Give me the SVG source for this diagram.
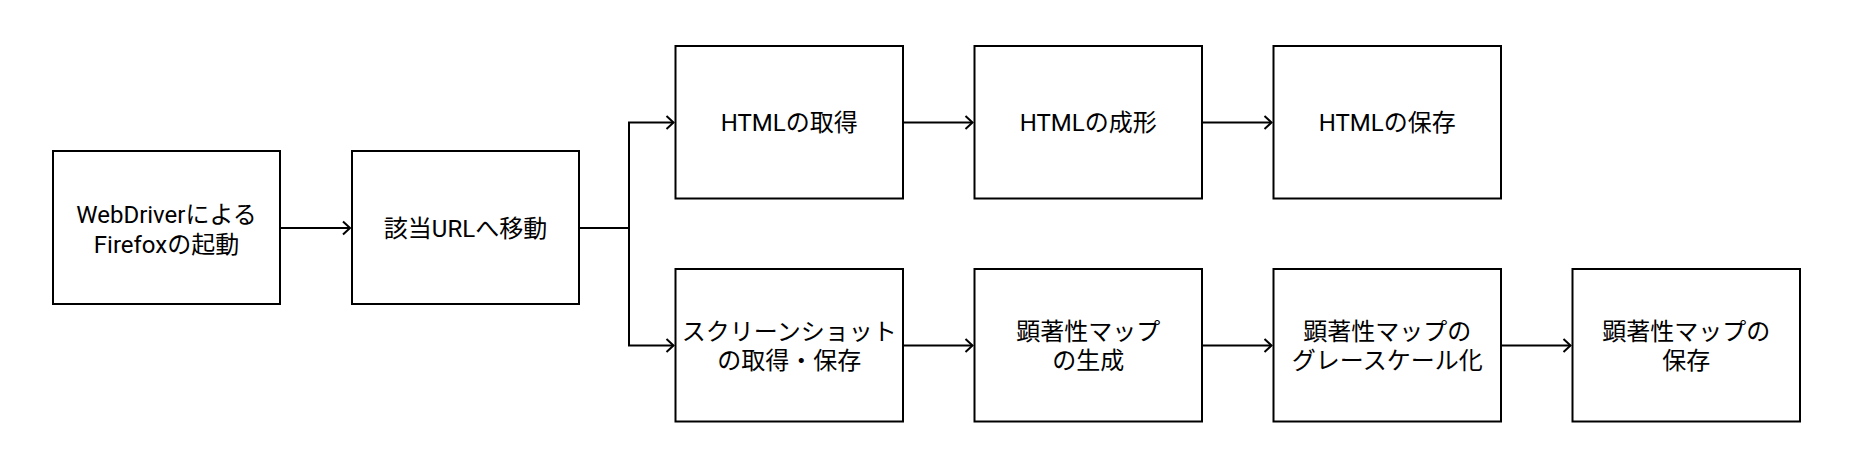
<svg xmlns="http://www.w3.org/2000/svg" width="1853" height="456" viewBox="0 0 1853 456">
<style>
.box{fill:#fff;stroke:#000;stroke-width:2}
.lbl{font-family:Roboto,"Noto Sans CJK JP",sans-serif;font-size:24px;fill:#000;text-anchor:middle}
.edge{fill:none;stroke:#000;stroke-width:2}
</style>
<defs>
<marker id="arr" markerUnits="userSpaceOnUse" markerWidth="20" markerHeight="20" refX="0" refY="0" viewBox="-10 -10 20 20" orient="auto" overflow="visible">
<path d="M-7,-6.5 L0,0 L-7,6.5" fill="none" stroke="#000" stroke-width="2"/>
</marker>
</defs>
<rect width="1853" height="456" fill="#fff"/>
<g id="n1"><rect class="box" x="53" y="151" width="227" height="153"/><text class="lbl" x="166.5" y="223">WebDriverによる</text><text class="lbl" x="166.5" y="252.5">Firefoxの起動</text></g>
<g id="n2"><rect class="box" x="352" y="151" width="227" height="153"/><text class="lbl" x="465.5" y="236.5">該当URLへ移動</text></g>
<g id="n3"><rect class="box" x="675.5" y="46" width="227.5" height="152.5"/><text class="lbl" x="789.25" y="131">HTMLの取得</text></g>
<g id="n4"><rect class="box" x="974.5" y="46" width="227.5" height="152.5"/><text class="lbl" x="1088.25" y="131">HTMLの成形</text></g>
<g id="n5"><rect class="box" x="1273.5" y="46" width="227.5" height="152.5"/><text class="lbl" x="1387.25" y="131">HTMLの保存</text></g>
<g id="n6"><rect class="box" x="675.5" y="269" width="227.5" height="152.5"/><text class="lbl" x="789.25" y="339.5">スクリーンショット</text><text class="lbl" x="789.25" y="368.5">の取得・保存</text></g>
<g id="n7"><rect class="box" x="974.5" y="269" width="227.5" height="152.5"/><text class="lbl" x="1088.25" y="339.5">顕著性マップ</text><text class="lbl" x="1088.25" y="368.5">の生成</text></g>
<g id="n8"><rect class="box" x="1273.5" y="269" width="227.5" height="152.5"/><text class="lbl" x="1387.25" y="339.5">顕著性マップの</text><text class="lbl" x="1387.25" y="368.5">グレースケール化</text></g>
<g id="n9"><rect class="box" x="1572.5" y="269" width="227.5" height="152.5"/><text class="lbl" x="1686.25" y="339.5">顕著性マップの</text><text class="lbl" x="1686.25" y="368.5">保存</text></g>
<g id="connectors">
<path class="edge" d="M280,228 H350" marker-end="url(#arr)"/>
<path class="edge" d="M579,228 H629 V122.5 H673.5" marker-end="url(#arr)"/>
<path class="edge" d="M629,228 V345.5 H673.5" marker-end="url(#arr)"/>
<path class="edge" d="M903,122.5 H972.5" marker-end="url(#arr)"/>
<path class="edge" d="M1202,122.5 H1271.5" marker-end="url(#arr)"/>
<path class="edge" d="M903,345.5 H972.5" marker-end="url(#arr)"/>
<path class="edge" d="M1202,345.5 H1271.5" marker-end="url(#arr)"/>
<path class="edge" d="M1501,345.5 H1570.5" marker-end="url(#arr)"/>
</g>
</svg>
